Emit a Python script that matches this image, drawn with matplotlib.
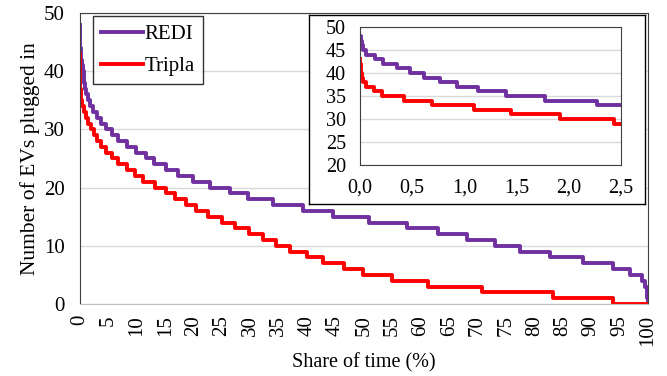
import numpy as np
import matplotlib
matplotlib.use("Agg")
import matplotlib.pyplot as plt

plt.rcParams['font.family'] = ['Liberation Serif', 'DejaVu Serif']

# Duration curves: number of EVs plugged in, and the share of time (%) at which each level ends
redi_levels = list(range(48, -1, -1))
redi_end = [0.005, 0.015, 0.03, 0.06, 0.14, 0.22, 0.35, 0.48, 0.61, 0.77,
            0.93, 1.13, 1.40, 1.77, 2.27, 3.0, 3.7, 4.6, 5.6, 6.7,
            8.3, 9.9, 11.7, 13.1, 15.2, 17.3, 19.9, 22.8, 26.4, 29.6,
            34.0, 39.2, 44.5, 50.9, 57.6, 63.1, 68.2, 73.1, 77.5, 82.7,
            88.5, 93.9, 96.8, 98.9, 99.5, 99.75, 99.85, 99.93, 100]

tripla_levels = list(range(43, -1, -1))
tripla_end = [0.003, 0.006, 0.01, 0.02, 0.03, 0.06, 0.13, 0.21, 0.42, 0.69,
              1.09, 1.45, 1.92, 2.43, 3.0, 3.7, 4.6, 5.6, 6.7, 8.2,
              9.7, 11.1, 13.2, 15.2, 16.8, 18.6, 20.4, 22.6, 25.0, 27.3,
              29.8, 32.2, 34.5, 37.0, 40.0, 42.8, 46.4, 49.9, 54.9, 61.3,
              70.7, 83.3, 93.9, 100]

series = [("REDI", redi_levels, redi_end, "#7030A0"),
          ("Tripla", tripla_levels, tripla_end, "#FF0000")]

xticks_main = list(range(0, 101, 5))
yticks_main = list(range(0, 51, 10))
xticks_inset = [0.0, 0.5, 1.0, 1.5, 2.0, 2.5]
yticks_inset = list(range(20, 51, 5))


def step_xy(levels, ends):
    x = np.concatenate([[0], ends])
    y = np.concatenate([levels, [levels[-1]]])
    return x, y


fig = plt.figure(figsize=(6.67, 3.76), dpi=100)

# main chart
ax = fig.add_axes([0.12, 0.1915, 0.8515, 0.774])
for name, lev, end, col in series:
    x, y = step_xy(lev, end)
    ax.step(x, y, where="post", color=col, lw=2.8, label=name)
ax.set_xlim(0, 100)
ax.set_ylim(0, 50)
ax.set_xticks(xticks_main)
ax.set_xticklabels([str(v) for v in xticks_main], rotation=90)
ax.set_yticks(yticks_main)
ax.grid(axis="y", color="#D9D9D9", lw=1.0)
ax.set_axisbelow(True)
ax.tick_params(length=0, labelsize=15)
ax.tick_params(axis="y", pad=11)
ax.tick_params(axis="x", pad=8)
for s in ["left", "top", "right"]:
    ax.spines[s].set_color("#404040")
ax.spines["bottom"].set_color("#BFBFBF")
ax.set_xlabel("Share of time (%)", fontsize=14.5, labelpad=5)
ax.set_ylabel("Number of EVs plugged in", fontsize=15.5, labelpad=3)
leg = ax.legend(loc="upper left", bbox_to_anchor=(0.022, 0.99), fontsize=15,
                frameon=True, fancybox=False, edgecolor="black",
                handlelength=2.0, handletextpad=0.1, borderpad=0.4,
                labelspacing=0.6, borderaxespad=0)
leg.get_frame().set_linewidth(1.0)

# inset frame
frame = fig.add_axes([0.4633, 0.4574, 0.5037, 0.5026])
frame.set_xticks([])
frame.set_yticks([])
for s in frame.spines.values():
    s.set_color("black")
    s.set_linewidth(1.0)
frame.set_zorder(2)

# inset chart
axi = fig.add_axes([0.5397, 0.5612, 0.3913, 0.367])
axi.set_zorder(3)
for name, lev, end, col in series:
    x, y = step_xy(lev, end)
    axi.step(x, y, where="post", color=col, lw=2.8)
axi.set_xlim(0, 2.5)
axi.set_ylim(20, 50)
axi.set_xticks(xticks_inset)
axi.set_xticklabels([f"{v:.1f}".replace(".", ",") for v in xticks_inset])
axi.set_yticks(yticks_inset)
axi.grid(axis="y", color="#D9D9D9", lw=1.0)
axi.set_axisbelow(True)
axi.tick_params(length=0, labelsize=14.5)
axi.tick_params(axis="y", pad=10)
axi.tick_params(axis="x", pad=10)
for s in axi.spines.values():
    s.set_color("#404040")

fig.savefig("out.png", dpi=100)
